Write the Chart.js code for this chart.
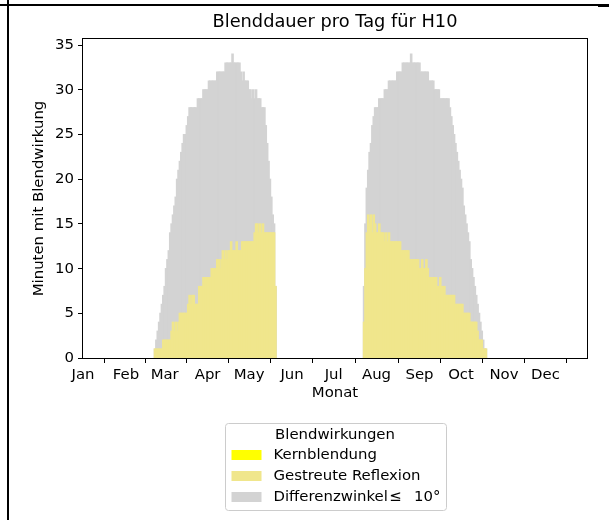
<!DOCTYPE html>
<html>
<head>
<meta charset="utf-8">
<script src="https://cdn.jsdelivr.net/npm/chart.js@4.4.1/dist/chart.umd.min.js"></script>
<style>
  html, body { margin: 0; padding: 0; background: #fff; }
  #wrap { position: relative; width: 609px; height: 520px; overflow: hidden; }
  #myChart { position: absolute; left: 0; top: 0; }
  .linie-v { position: absolute; left: 7px; top: 0; width: 2px; height: 520px; background: #000; }
  .linie-h { position: absolute; left: 0; top: 4px; width: 598px; height: 2px; background: #000; }
  .linie-h2 { position: absolute; left: 598px; top: 4px; width: 11px; height: 3px; background: #000; }
</style>
</head>
<body>
<div id="wrap">
  <canvas id="myChart" width="609" height="520"></canvas>
  <div class="linie-h"></div>
  <div class="linie-h2"></div>
  <div class="linie-v"></div>
</div>
<script>
const monate = ['Jan', 'Feb', 'Mar', 'Apr', 'May', 'Jun', 'Jul', 'Aug', 'Sep', 'Oct', 'Nov', 'Dec'];
const monatsAnfang = [0, 31, 59, 90, 120, 151, 181, 212, 243, 273, 304, 334];

// Fruehjahr: ab Tag 52 (22. Feb), Minuten pro Tag
const fruehlingStart = 52;
const fruehlingGrau = [
  1, 2, 3, 4, 5, 6, 7, 8, 10, 11, 12, 14, 15, 16, 17, 18, 20, 21, 22, 23, 24, 25, 25, 26, 27,
  28, 28, 28, 28, 28, 28,
  29, 29, 29, 29,
  30, 30, 30, 30,
  31, 31, 31, 31, 31, 31,
  32, 32, 32, 32, 32, 32,
  33, 33, 33, 33, 33,
  34,
  33, 33, 33, 33, 33,
  32, 31, 32,
  31, 31, 31,
  30, 30, 29, 30, 29, 30,
  29, 29, 29,
  28, 28, 28,
  26, 24, 22, 20, 18, 16, 15, 8
];
const fruehlingGelb = [
  1, 1, 1, 1, 1, 1,
  2, 2, 2, 2, 2, 2,
  3, 4, 3, 4, 3, 4,
  5, 5, 5, 5, 5, 5,
  6, 7, 6, 7, 7, 6, 6, 6,
  8, 8, 8,
  9, 9, 9, 9, 9, 9,
  10, 10, 10, 10, 11, 11, 10,
  11, 12, 11, 12, 11,
  12, 12, 13, 12, 12, 12, 13, 12, 12, 12,
  13, 13, 13, 13, 13, 13, 13, 13, 13,
  14, 15, 15, 14, 15, 14, 15, 14, 14, 14, 14, 14, 14, 14, 14,
  8
];

// Spaetsommer/Herbst: ab Tag 203 (23. Jul)
const herbstStart = 203;
const herbstGrau = [
  8, 15, 19, 21, 23, 24, 26, 27,
  28, 28, 28,
  29, 29, 29, 29,
  30, 30, 30,
  31, 31, 31, 31, 31, 31,
  32, 32, 32, 32,
  33, 33, 33, 33, 33, 33,
  34,
  33, 33, 33, 33, 33, 33,
  32, 32, 32, 32, 32, 32,
  31, 31, 31, 31,
  30, 30, 30, 30,
  29, 29, 29, 29, 29, 29, 29,
  28, 27, 26, 25, 24, 23, 22, 21, 20, 19, 17, 16, 15, 14, 13, 11, 10, 9, 8, 7, 6, 5, 4, 3, 2, 1, 1
];
const herbstGelb = [
  4, 10, 14, 16, 15, 16, 14, 16, 15,
  14, 14, 15, 14, 14, 14,
  13, 14, 13, 14, 13, 13, 13, 13, 13, 13, 13, 13,
  12, 12, 12, 12, 12, 12,
  11, 11, 11, 11, 11, 11, 11,
  10, 10, 11, 10, 10, 11, 10,
  9, 9, 9, 9, 9, 9,
  8, 8, 9, 8, 8, 8,
  7, 7, 7, 7, 7, 7, 7,
  6, 6, 6, 6, 6, 6,
  5, 5, 5, 5, 5,
  4, 4, 4, 4, 4,
  3, 2, 2, 2,
  1, 1, 1
];

// Kernblendung kommt nicht vor
const kernblendung = [];

const tage = [];
const gelb = [];
const grau = [];
fruehlingGrau.forEach((v, i) => {
  tage.push(fruehlingStart + i);
  grau.push(v);
  gelb.push(fruehlingGelb[i]);
});
herbstGrau.forEach((v, i) => {
  tage.push(herbstStart + i);
  grau.push(v);
  gelb.push(herbstGelb[i]);
});

const schrift = { family: 'DejaVu Sans', size: 14.9 };
Chart.defaults.font.family = 'DejaVu Sans';
Chart.defaults.color = '#000';

// Rahmen um die Zeichenflaeche (wie matplotlib-Spines) und Titel ueber der Achsenmitte
const rahmen = {
  id: 'rahmen',
  afterDatasetsDraw(chart) {
    const { ctx, chartArea: a } = chart;
    ctx.save();
    ctx.strokeStyle = '#000';
    ctx.lineWidth = 1;
    ctx.strokeRect(Math.round(a.left) - 0.5, Math.round(a.top) - 0.5,
      Math.round(a.right - a.left) + 1, Math.round(a.bottom - a.top) + 1);
    ctx.font = '17.8px "DejaVu Sans"';
    ctx.fillStyle = '#000';
    ctx.textAlign = 'center';
    ctx.textBaseline = 'middle';
    ctx.fillText('Blenddauer pro Tag für H10', (a.left + a.right) / 2, 22);
    ctx.restore();
  }
};

// Legende unter dem Diagramm
const legende = {
  id: 'legende',
  afterDraw(chart) {
    const { ctx, chartArea: a } = chart;
    const mitte = (a.left + a.right) / 2;
    const w = 221, h = 87;
    const x = Math.round(mitte - w / 2) + 0.5, y = 423.5;
    ctx.save();
    ctx.beginPath();
    ctx.roundRect(x, y, w, h, 3);
    ctx.fillStyle = 'rgba(255,255,255,0.8)';
    ctx.fill();
    ctx.strokeStyle = '#cccccc';
    ctx.lineWidth = 1;
    ctx.stroke();
    ctx.font = '14.9px "DejaVu Sans"';
    ctx.textBaseline = 'middle';
    ctx.textAlign = 'center';
    ctx.fillStyle = '#000';
    ctx.fillText('Blendwirkungen', mitte, 435);
    ctx.textAlign = 'left';
    chart.data.datasets.forEach((ds, i) => {
      const cy = 455 + i * 21;
      ctx.fillStyle = ds.backgroundColor;
      ctx.fillRect(x + 6, cy - 5, 30, 10);
      ctx.fillStyle = '#000';
      ctx.fillText(ds.label, x + 48, cy);
    });
    ctx.restore();
  }
};

const ctx = document.querySelector('#myChart');
const chart = new Chart(ctx, {
  type: 'bar',
  data: {
    labels: tage,
    datasets: [
      { label: 'Kernblendung', data: kernblendung, backgroundColor: '#ffff00' },
      { label: 'Gestreute Reflexion', data: gelb, backgroundColor: '#f0e68c' },
      { label: 'Differenzwinkel\u200a≤\u2002 10°', data: grau, backgroundColor: '#d3d3d3' }
    ]
  },
  options: {
    responsive: false,
    animation: false,
    devicePixelRatio: 1,
    datasets: {
      bar: { grouped: false, barPercentage: 1, categoryPercentage: 1, borderWidth: 0, inflateAmount: 0.6 }
    },
    layout: { padding: { left: 0, right: 22, top: 39, bottom: 112 } },
    plugins: {
      legend: { display: false },
      tooltip: { enabled: false },
      title: { display: false }
    },
    scales: {
      x: {
        type: 'linear',
        min: 0,
        max: 364,
        offset: false,
        afterBuildTicks: (s) => { s.ticks = monatsAnfang.map((v) => ({ value: v })); },
        afterFit: (s) => { s.height = 50; },
        ticks: {
          autoSkip: false,
          maxRotation: 0,
          padding: 3,
          color: '#000',
          font: schrift,
          callback: (v, i) => monate[i]
        },
        grid: { drawOnChartArea: false, drawTicks: true, tickLength: 5, color: '#000' },
        border: { display: false },
        title: { display: true, text: 'Monat', color: '#000', font: schrift, padding: { top: 0, bottom: 6 } }
      },
      y: {
        min: 0,
        max: 35.7,
        afterFit: (s) => { s.width = 83; },
        ticks: { stepSize: 5, includeBounds: false, padding: 4, color: '#000', font: schrift },
        grid: { drawOnChartArea: false, drawTicks: true, tickLength: 5, color: '#000' },
        border: { display: false },
        title: { display: true, text: 'Minuten mit Blendwirkung', color: '#000', font: schrift, padding: { top: 30, bottom: 0 } }
      }
    }
  },
  plugins: [rahmen, legende]
});
</script>
</body>
</html>
